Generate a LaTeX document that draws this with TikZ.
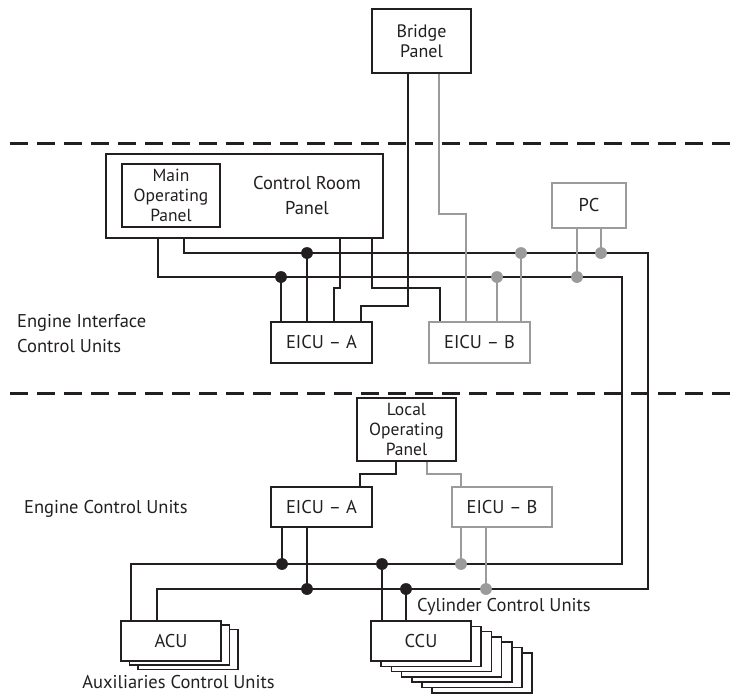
\documentclass[tikz,border=0pt]{standalone}
\usepackage{fontspec}
\setmainfont{PT Sans}
\usetikzlibrary{calc}

\definecolor{ink}{HTML}{231F20}
\definecolor{dim}{HTML}{9B9B9B}

\begin{document}
\begin{tikzpicture}[x=1pt, y=-1pt,
    box/.style={draw=ink, line width=1.5pt, fill=white, inner sep=0pt, align=center, text=ink},
    greybox/.style={box, draw=dim},
    stackbox/.style={draw=ink, line width=1.5pt, fill=white},
    wire/.style={draw=ink, line width=1.4pt},
    greywire/.style={draw=dim, line width=1.4pt},
    dot/.style={circle, fill=ink, inner sep=0pt, minimum size=11.5pt},
    greydot/.style={dot, fill=dim},
    sep/.style={draw=ink, line width=3pt, dash pattern=on 17.5pt off 9.5pt},
    big/.style={font=\fontsize{18.5}{25}\selectfont},
    small/.style={font=\fontsize{17.5}{20}\selectfont},
    unitname/.style={big, text=ink, inner sep=0pt, align=left}]
    \useasboundingbox (0,0) rectangle (732,694);

    % separators
    \coordinate (s1w) at (10,143);
    \coordinate (s1e) at (732,143);
    \coordinate (s2w) at (10,393);
    \coordinate (s2e) at (732,393);
    \draw[sep] (s1w) -- (s1e);
    \draw[sep] (s2w) -- (s2e);

    % bridge
    \node[box, font=\fontsize{18}{20}\selectfont, minimum width=99pt, minimum height=64pt] (bridge) at (421.5,41) {Bridge\\Panel};

    % control room
    \node[box, minimum width=277pt, minimum height=84pt] (crp) at (244.5,196) {};
    \node[box, small, minimum width=98pt, minimum height=63pt] (mop) at (171,195.5) {Main\\Operating\\Panel};
    \node[big, text=ink, align=center, inner sep=0pt] (crptext) at (307,196) {Control Room\\Panel};
    \node[greybox, big, minimum width=74pt, minimum height=45pt] (pc) at (589,205.5) {PC};

    % interface units
    \node[box, big, minimum width=101pt, minimum height=41pt] (eia) at (321.5,342.5) {EICU -- A};
    \node[greybox, big, minimum width=101pt, minimum height=41pt] (eib) at (479.5,342.5) {EICU -- B};

    % engine units
    \node[box, small, minimum width=99pt, minimum height=63pt] (lop) at (406.5,429.5) {Local\\Operating\\Panel};
    \node[box, big, minimum width=101pt, minimum height=40pt] (eca) at (321.5,507) {EICU -- A};
    \node[greybox, big, minimum width=100pt, minimum height=40pt] (ecb) at (502,507) {EICU -- B};

    % acu stack
    \coordinate (acuc) at (171,641);
    \foreach \i in {2,1}
        \draw[stackbox] ($(acuc)+(-50+8.5*\i,-20+4.2*\i)$) rectangle ($(acuc)+(50+8.5*\i,20+4.2*\i)$);
    \node[box, big, minimum width=100pt, minimum height=40pt] (acu) at (acuc) {ACU};

    % ccu stack
    \coordinate (ccuc) at (421,641);
    \foreach \i in {6,...,1}
        \draw[stackbox] ($(ccuc)+(-50+10.2*\i,-20+5.3*\i)$) rectangle ($(ccuc)+(50+10.2*\i,20+5.3*\i)$);
    \node[box, big, minimum width=100pt, minimum height=40pt] (ccu) at (ccuc) {CCU};

    % texts
    \coordinate (lblx) at (24,0);
    \node[unitname, anchor=north west] (eiculbl) at (17,314) {Engine Interface\\Control Units};
    \node[unitname, anchor=base west] (eculbl) at (lblx |- eca.base) {Engine Control Units};
    \node[unitname, anchor=base west] (cculbl) at (417,611) {Cylinder Control Units};
    \node[unitname, anchor=base] (aculbl) at (178.5,688) {Auxiliaries Control Units};

    % bus 1
    \coordinate (b1a) at (184,253);
    \coordinate (b1b) at (648,253);
    \coordinate (b1c) at (648,589);
    \coordinate (b1d) at (157,589);
    \draw[wire] (crp.south -| b1a) -- (b1a) -- (b1b) -- (b1c) -- (b1d) -- (b1d |- acu.north);

    % bus 2
    \coordinate (b2a) at (158,277);
    \coordinate (b2b) at (622,277);
    \coordinate (b2c) at (622,564);
    \coordinate (b2d) at (131,564);
    \draw[wire] (crp.south -| b2a) -- (b2a) -- (b2b) -- (b2c) -- (b2d) -- (b2d |- acu.north);

    % control room to eicu
    \coordinate (j1) at (340,288);
    \coordinate (j2) at (334,288);
    \draw[wire] (crp.south -| j1) -- (j1) -- (j2) -- (j2 |- eia.north);
    \coordinate (j3) at (372,288);
    \coordinate (j4) at (440,288);
    \draw[wire] (crp.south -| j3) -- (j3) -- (j4) -- (j4 |- eib.north);

    % bridge to eicu
    \coordinate (j5) at (408,306);
    \coordinate (j6) at (361,306);
    \draw[wire] (bridge.south -| j5) -- (j5) -- (j6) -- (j6 |- eia.north);
    \coordinate (j7) at (439,214);
    \coordinate (j8) at (466,214);
    \draw[greywire] (bridge.south -| j7) -- (j7) -- (j8) -- (j8 |- eib.north);

    % local panel to eicu
    \coordinate (j9) at (396,474);
    \coordinate (j10) at (360,474);
    \draw[wire] (lop.south -| j9) -- (j9) -- (j10) -- (j10 |- eca.north);
    \coordinate (j11) at (427,474);
    \coordinate (j12) at (461,474);
    \draw[greywire] (lop.south -| j11) -- (j11) -- (j12) -- (j12 |- ecb.north);

    % taps
    \foreach \x/\y/\t/\a [count=\n] in {307/253/eia/north, 281/277/eia/north,
            282/564/eca/south, 307/589/eca/south, 382/564/ccu/north, 406/589/ccu/north} {
        \node[dot] (tap\n) at (\x,\y) {};
        \draw[wire] (tap\n.center) -- (tap\n |- \t.\a);
        \node[dot] at (tap\n) {};
    }
    \foreach \x/\y/\t/\a [count=\n] in {521/253/eib/north, 497/277/eib/north,
            601/253/pc/south, 577/277/pc/south, 461/564/ecb/south, 486/589/ecb/south} {
        \node[greydot] (gtap\n) at (\x,\y) {};
        \draw[greywire] (gtap\n.center) -- (gtap\n |- \t.\a);
        \node[greydot] at (gtap\n) {};
    }
\end{tikzpicture}
\end{document}
